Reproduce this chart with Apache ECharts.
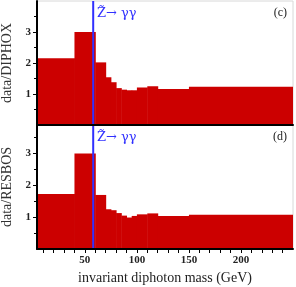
<!DOCTYPE html>
<html>
<head>
<meta charset="utf-8">
<script src="https://cdn.jsdelivr.net/npm/echarts@6/dist/echarts.min.js"></script>
<style>
html,body{margin:0;padding:0;background:#fff;}
#c{width:296px;height:287px;}
</style>
</head>
<body>
<div id="c"></div>
<script>
// bin edges (GeV)
const binEdges = [0, 40, 60, 70, 75, 80, 85, 90, 95, 100, 110, 120, 150, 250];
// ratio data/DIPHOX per bin
const diphoxRatio = [2.15, 3.0, 2.02, 1.54, 1.38, 1.19, 1.14, 1.12, 1.12, 1.21, 1.25, 1.16, 1.23];
// ratio data/RESBOS per bin
const resbosRatio = [1.73, 3.0, 1.70, 1.25, 1.22, 1.13, 1.05, 0.99, 1.04, 1.09, 1.12, 1.04, 1.08];
// Z-tilde mass marker (GeV)
const zMass = 58;
const xTicks = [10,20,30,40,50,60,70,80,90,100,110,120,130,140,150,160,170,180,190,200,210,220,230,240];
const xLabels = [50, 100, 150, 200];
const yLabels = [1, 2, 3];

const FONT = 'Liberation Serif';
const RED = '#cc0000';
const BLUE = '#3030ff';

function binData(vals) {
  return vals.map((v, i) => [binEdges[i], binEdges[i + 1], v]);
}

function renderBin(params, api) {
  const p0 = api.coord([api.value(0), api.value(2)]);
  const p1 = api.coord([api.value(1), 0]);
  const rect = echarts.graphic.clipRectByRect({
    x: p0[0], y: p0[1], width: p1[0] - p0[0] + 0.5, height: p1[1] - p0[1]
  }, {
    x: params.coordSys.x, y: params.coordSys.y,
    width: params.coordSys.width, height: params.coordSys.height
  });
  return rect && {
    type: 'rect',
    shape: rect,
    style: { fill: RED }
  };
}

const grids = [
  { left: 37, right: 3, top: 1, height: 124, outerBoundsMode: 'none', containLabel: false, show: true, borderColor: '#d8d8d8', borderWidth: 1, backgroundColor: 'transparent' },
  { left: 37, right: 3, top: 125, height: 124, outerBoundsMode: 'none', containLabel: false, show: true, borderColor: '#d8d8d8', borderWidth: 1, backgroundColor: 'transparent' }
];

function xAxis(gi, withLabels) {
  return {
    type: 'value', gridIndex: gi, min: 4, max: 250,
    axisLine: { show: true, onZero: false, lineStyle: { color: '#000', width: 2 } },
    axisTick: { show: withLabels, customValues: xTicks, length: 4, lineStyle: { color: '#000', width: 1 } },
    axisLabel: { show: withLabels, customValues: xLabels, color: '#222', fontFamily: FONT, fontSize: 11, fontWeight: 'bold', margin: 6 },
    splitLine: { show: false },
    name: withLabels ? 'invariant diphoton mass (GeV)' : '',
    nameLocation: 'middle', nameGap: 22,
    nameTextStyle: { fontFamily: FONT, fontSize: 14, color: '#222' },
    z: 10
  };
}

function yAxis(gi, max, name) {
  return {
    type: 'value', gridIndex: gi, min: 0, max: max, interval: 1,
    axisLine: { show: true, lineStyle: { color: '#000', width: 2 } },
    axisTick: { show: true, customValues: yLabels, length: 4, lineStyle: { color: '#000' } },
    minorTick: { show: true, splitNumber: 2, length: 3, lineStyle: { color: '#000' } },
    axisLabel: { customValues: yLabels, color: '#222', fontFamily: FONT, fontSize: 11, fontWeight: 'bold', margin: 6 },
    splitLine: { show: false },
    minorSplitLine: { show: false },
    name: name, nameLocation: 'middle', nameGap: 19,
    nameTextStyle: { fontFamily: FONT, fontSize: 14, color: '#333' },
    z: 10
  };
}

function zLine(gi, top) {
  return {
    type: 'line', xAxisIndex: gi, yAxisIndex: gi,
    data: [[zMass, 0], [zMass, top]],
    symbol: 'none', lineStyle: { color: BLUE, width: 2 }, z: 5, silent: true
  };
}

const chart = echarts.init(document.getElementById('c'), null, { renderer: 'canvas' });
chart.setOption({
  animation: false,
  backgroundColor: '#fff',
  grid: grids,
  xAxis: [xAxis(0, false), xAxis(1, true)],
  yAxis: [yAxis(0, 4, 'data/DIPHOX'), yAxis(1, 3.9, 'data/RESBOS')],
  series: [
    { type: 'custom', xAxisIndex: 0, yAxisIndex: 0, data: binData(diphoxRatio), renderItem: renderBin, encode: { x: [0, 1], y: 2 }, z: 2 },
    { type: 'custom', xAxisIndex: 1, yAxisIndex: 1, data: binData(resbosRatio), renderItem: renderBin, encode: { x: [0, 1], y: 2 }, z: 2 },
    zLine(0, 4),
    zLine(1, 3.9)
  ],
  graphic: [
    { type: 'text', left: 97, top: 7, style: { text: 'Z\u0303\u2192 \u03b3\u03b3', fill: BLUE, font: '13px "DejaVu Serif"' } },
    { type: 'text', left: 97, top: 131, style: { text: 'Z\u0303\u2192 \u03b3\u03b3', fill: BLUE, font: '13px "DejaVu Serif"' } },
    { type: 'text', right: 9, top: 7, style: { text: '(c)', fill: '#222', font: '12px "Liberation Serif"' } },
    { type: 'text', right: 9, top: 131, style: { text: '(d)', fill: '#222', font: '12px "Liberation Serif"' } }
  ]
});
</script>
</body>
</html>
